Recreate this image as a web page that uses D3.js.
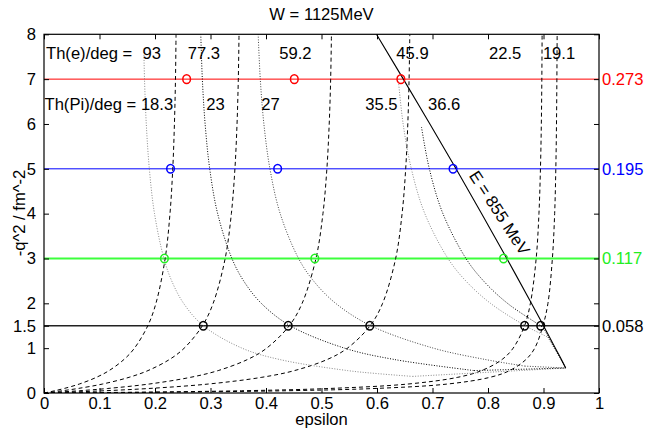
<!DOCTYPE html>
<html><head><meta charset="utf-8">
<script src="https://cdn.jsdelivr.net/npm/d3@7"></script>
<style>
html,body{margin:0;padding:0;background:#fff;}
svg text{font-family:"Liberation Sans",Arial,Helvetica,sans-serif;font-size:16.6px;fill:#000;}
</style></head><body>
<svg id="chart" width="646" height="429"></svg>
<script>
// ---- data -------------------------------------------------------------
// momentum transfer grid (fm^-2) used by the constant electron-angle curves
const qGrid = [0, 0.005, 0.01, 0.02, 0.05, 0.1, 0.2, 0.35, 0.5, 0.75, 1, 1.5, 2, 3, 4, 5, 6, 7, 8];
// electron scattering angles (deg) and epsilon along each curve
const thetaE = ["93", "77.3", "59.2", "45.9", "22.5", "19.1"];
const epsTh93  = [0, 0.0021, 0.0041, 0.0081, 0.0193, 0.0360, 0.0636, 0.0945, 0.1173, 0.1443, 0.1630, 0.1870, 0.2017, 0.2183, 0.2270, 0.2320, 0.2350, 0.2369, 0.2379];
const epsTh773 = [0, 0.0036, 0.0071, 0.0139, 0.0330, 0.0609, 0.1054, 0.1533, 0.1874, 0.2264, 0.2526, 0.2854, 0.3048, 0.3264, 0.3376, 0.3440, 0.3478, 0.3501, 0.3514];
const epsTh592 = [0, 0.0071, 0.0140, 0.0272, 0.0635, 0.1140, 0.1894, 0.2642, 0.3138, 0.3672, 0.4012, 0.4419, 0.4651, 0.4900, 0.5026, 0.5097, 0.5139, 0.5165, 0.5179];
const epsTh459 = [0, 0.0126, 0.0248, 0.0480, 0.1087, 0.1880, 0.2960, 0.3925, 0.4514, 0.5108, 0.5467, 0.5876, 0.6101, 0.6336, 0.6452, 0.6517, 0.6555, 0.6578, 0.6591];
const epsTh225 = [0, 0.0549, 0.1035, 0.1859, 0.3559, 0.5120, 0.6558, 0.7455, 0.7885, 0.8256, 0.8453, 0.8659, 0.8764, 0.8868, 0.8918, 0.8945, 0.8961, 0.8970, 0.8975];
const epsTh191 = [0, 0.0750, 0.1390, 0.2420, 0.4358, 0.5946, 0.7270, 0.8037, 0.8390, 0.8687, 0.8842, 0.8990, 0.9080, 0.9160, 0.9201, 0.9222, 0.9234, 0.9241, 0.9246];

// pion angles (deg): each curve has its own q list and epsilon list,
// all of them closing on the end point of the beam-energy line
const thetaPi = ["18.3", "23", "27", "35.5", "36.6"];
const piQ183   = [7.6, 7, 6, 5, 4, 3, 2.5, 2, 1.5, 1, 0.75, 0.5, 0.43, 0.37, 0.557];
const piEps183 = [0.1800, 0.1811, 0.1843, 0.1898, 0.1991, 0.2161, 0.2301, 0.2515, 0.2871, 0.3568, 0.4235, 0.5468, 0.6030, 0.6640, 0.9400];
const piQ23    = [8, 7, 6, 5, 4, 3, 2.5, 2, 1.5, 1, 0.75, 0.5, 0.557];
const piEps23  = [0.2825, 0.2853, 0.2903, 0.2986, 0.3129, 0.3386, 0.3597, 0.3915, 0.4436, 0.5416, 0.6299, 0.7749, 0.9400];
const piQ27    = [8, 7, 6, 5, 4, 3, 2.5, 2, 1.5, 1, 0.75, 0.6, 0.557];
const piEps27  = [0.3859, 0.3897, 0.3962, 0.4071, 0.4256, 0.4587, 0.4856, 0.5255, 0.5890, 0.7017, 0.7939, 0.8661, 0.9400];
const piQ355   = [7.0, 6, 5, 4, 3, 2.5, 2, 1.5, 1.25, 0.557];
const piEps355 = [0.6383, 0.6471, 0.6619, 0.6862, 0.7279, 0.7600, 0.8045, 0.8673, 0.9074, 0.9400];
const piQ366   = [5.93, 5, 4, 3, 2.5, 2, 1.5, 1.45, 0.557];
const piEps366 = [0.6802, 0.6943, 0.7188, 0.7603, 0.7919, 0.8351, 0.8945, 0.9000, 0.9400];

// beam energy E = 855 MeV boundary
const beamQ   = [8, 7, 6, 5, 4, 3, 2, 1.5, 1, 0.75, 0.557];
const beamEps = [0.5990, 0.6475, 0.6953, 0.7424, 0.7886, 0.8339, 0.8782, 0.9000, 0.9214, 0.9321, 0.9400];

// horizontal settings: -q^2 (fm^-2) and the same in GeV^2
const levelQ   = [7, 5, 3, 1.5];
const levelGeV = ["0.273", "0.195", "0.117", "0.058"];
// measured epsilon points on each setting
const levelPoints = [
  [0.257, 0.451, 0.643],
  [0.228, 0.421, 0.737],
  [0.217, 0.488, 0.828],
  [0.287, 0.440, 0.587, 0.866, 0.895]
];
const xTicks = [0, 0.1, 0.2, 0.3, 0.4, 0.5, 0.6, 0.7, 0.8, 0.9, 1];
const yTicks = [0, 1, 1.5, 2, 3, 4, 5, 6, 7, 8];

// ---- styles and layout ------------------------------------------------
const levelColor = ["#ff0000", "#0000ff", "#3cff3c", "#222222"];
const levelText  = ["#ff0000", "#0000ff", "#22ee22", "#000000"];
const levelWidth = [1, 1, 2, 1.5];
const piStroke   = ["#888", "#000", "#444", "#888", "#000"];
const labelEAt   = [0.194, 0.288, 0.453, 0.664, 0.831, 0.928];   // label centres (epsilon)
const labelPiAt  = [null, 0.309, 0.408, 0.608, 0.721];

const M = {left: 44, right: 599, top: 34.3, bottom: 393};
const svg = d3.select("#chart");
const x = d3.scaleLinear().domain([0, 1]).range([M.left, M.right]);
const y = d3.scaleLinear().domain([0, 8]).range([M.bottom, M.top]);

svg.append("defs").append("clipPath").attr("id", "plotclip")
  .append("rect").attr("x", M.left).attr("y", M.top)
  .attr("width", M.right - M.left).attr("height", M.bottom - M.top);

const plot = svg.append("g").attr("clip-path", "url(#plotclip)");
const smooth = d3.line().x(d => x(d[0])).y(d => y(d[1])).curve(d3.curveCatmullRom.alpha(0.5));
const straight = d3.line().x(d => x(d[0])).y(d => y(d[1]));

// settings lines
levelQ.forEach((q, i) => {
  plot.append("line").attr("x1", M.left).attr("x2", M.right)
    .attr("y1", y(q)).attr("y2", y(q))
    .attr("stroke", levelColor[i]).attr("stroke-width", levelWidth[i]);
});

// constant electron angle curves
[epsTh93, epsTh773, epsTh592, epsTh459, epsTh225, epsTh191].forEach(eps => {
  plot.append("path").datum(eps.map((e, k) => [e, qGrid[k]]))
    .attr("d", smooth).attr("fill", "none")
    .attr("stroke", "#000").attr("stroke-width", 1)
    .attr("stroke-dasharray", "4,3");
});

// constant pion angle curves: smooth part, then a straight closing segment
[[piEps183, piQ183], [piEps23, piQ23], [piEps27, piQ27], [piEps355, piQ355], [piEps366, piQ366]]
  .forEach(([eps, qs], i) => {
    const pts = eps.map((e, k) => [e, qs[k]]);
    [smooth(pts.slice(0, -1)), straight(pts.slice(-2))].forEach(d => {
      plot.append("path").attr("d", d).attr("fill", "none")
        .attr("stroke", piStroke[i]).attr("stroke-width", 1)
        .attr("stroke-dasharray", "1,1.6");
    });
  });

// beam energy boundary
plot.append("path").datum(beamEps.map((e, k) => [e, beamQ[k]]))
  .attr("d", smooth).attr("fill", "none").attr("stroke", "#000").attr("stroke-width", 1.1);

// measured points
levelPoints.forEach((pts, i) => {
  pts.forEach(e => {
    svg.append("ellipse").attr("cx", x(e)).attr("cy", y(levelQ[i]))
      .attr("rx", 3.8).attr("ry", 4.3).attr("fill", "none")
      .attr("stroke", levelText[i]).attr("stroke-width", 1.5);
  });
});

// axes (ticks point inwards)
const fmt = d => d3.format("~g")(d);
svg.append("g").attr("transform", `translate(0,${M.bottom})`)
  .call(d3.axisBottom(x).tickValues(xTicks).tickSize(-5).tickSizeOuter(0).tickPadding(4).tickFormat(fmt));
svg.append("g").attr("transform", `translate(0,${M.top})`)
  .call(d3.axisTop(x).tickValues(xTicks).tickSize(-5).tickSizeOuter(0).tickFormat(""));
const yAx = svg.append("g").attr("transform", `translate(${M.left},0)`)
  .call(d3.axisLeft(y).tickValues(yTicks).tickSize(-5).tickSizeOuter(0).tickPadding(8).tickFormat(fmt));
svg.append("g").attr("transform", `translate(${M.right},0)`)
  .call(d3.axisRight(y).tickValues(yTicks).tickSize(-5).tickSizeOuter(0).tickFormat(""));
svg.selectAll(".tick text").style("font-size", "16.6px").attr("fill", "#000");
svg.selectAll(".domain").remove();
yAx.selectAll(".tick text").attr("fill", d => {
  const i = levelQ.indexOf(d);
  return i >= 0 ? levelText[i] : "#000";
});

svg.append("rect").attr("x", M.left).attr("y", M.top)
  .attr("width", M.right - M.left).attr("height", M.bottom - M.top)
  .attr("fill", "none").attr("stroke", "#000").attr("stroke-width", 1.2);

// right-hand labels in GeV^2
levelQ.forEach((q, i) => {
  svg.append("text").attr("x", M.right + 3).attr("y", y(q)).attr("dy", "0.36em")
    .style("fill", levelText[i]).text(levelGeV[i]);
});

// titles
svg.append("text").attr("x", 321.5).attr("y", 20).attr("text-anchor", "middle").text("W = 1125MeV");
svg.append("text").attr("x", 321.5).attr("y", 424.5).attr("text-anchor", "middle").text("epsilon");
svg.append("text").attr("transform", "translate(25,213) rotate(-90)")
  .attr("text-anchor", "middle").text("-q^2 / fm^-2");

// angle annotations
svg.append("text").attr("x", 46).attr("y", 58.5).text("Th(e)/deg =");
thetaE.forEach((t, i) => {
  svg.append("text").attr("x", x(labelEAt[i])).attr("y", 58.5)
    .attr("text-anchor", "middle").text(t);
});
svg.append("text").attr("x", 44.5).attr("y", 110).text("Th(Pi)/deg = " + thetaPi[0]);
thetaPi.forEach((t, i) => {
  if (i === 0) return;
  svg.append("text").attr("x", x(labelPiAt[i])).attr("y", 110)
    .attr("text-anchor", "middle").text(t);
});

svg.append("text").attr("transform", `translate(${x(0.812)},${y(3.95)}) rotate(57)`)
  .attr("text-anchor", "middle").text("E = 855 MeV");
</script></body></html>
